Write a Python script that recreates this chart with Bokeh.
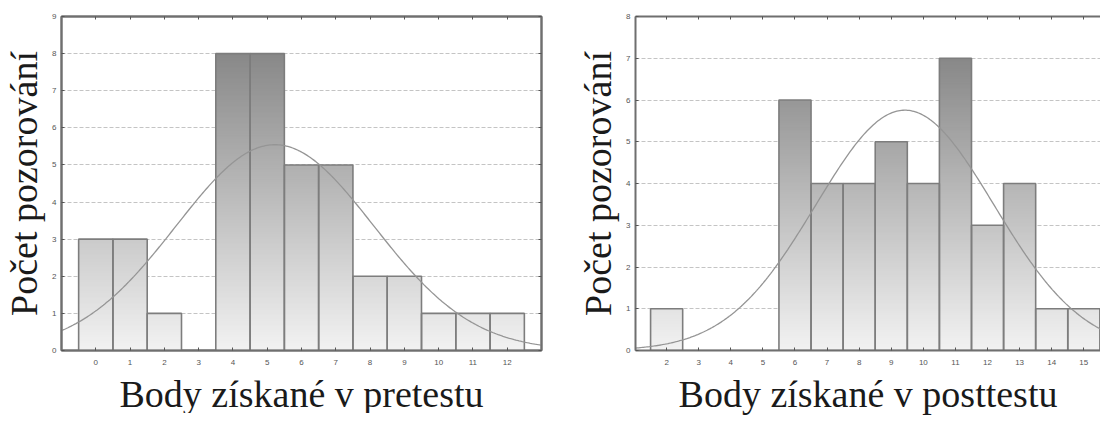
import numpy as np
from bokeh.plotting import figure
from bokeh.layouts import row
from bokeh.models import FixedTicker, LinearAxis, Range1d, ColumnDataSource
from bokeh.embed import file_html
from bokeh.resources import INLINE

# ---------------- data ----------------
pre_scores = [0, 1, 2, 3, 4, 5, 6, 7, 8, 9, 10, 11, 12]
pre_counts = [3, 3, 1, 0, 8, 8, 5, 5, 2, 2, 1, 1, 1]
post_scores = [2, 3, 4, 5, 6, 7, 8, 9, 10, 11, 12, 13, 14, 15]
post_counts = [1, 0, 0, 0, 6, 4, 4, 5, 4, 7, 3, 4, 1, 1]
pre_yticks = list(range(0, 10))
post_yticks = list(range(0, 9))
y_title = "Počet pozorování"
pre_xtitle = "Body získané v pretestu"
post_xtitle = "Body získané v posttestu"

SERIF = "'Liberation Serif', 'Times New Roman', serif"
SANS = "'Liberation Sans', Arial, sans-serif"


def make_panel(scores, counts, yticks, xtitle, x_start, x_end, frame_w, frame_h,
               right_axis=True, br=None):
    p = figure(frame_width=frame_w, frame_height=frame_h, output_backend="svg",
               toolbar_location=None, x_range=Range1d(x_start, x_end),
               y_range=Range1d(yticks[0], yticks[-1]),
               min_border_right=br, min_border_top=0, min_border_bottom=0)
    p.background_fill_color = "white"
    p.border_fill_color = "white"
    p.xgrid.grid_line_color = None
    p.ygrid.ticker = FixedTicker(ticks=yticks)
    p.ygrid.grid_line_color = "#c4c4c4"
    p.ygrid.grid_line_dash = "4 2"
    p.ygrid.grid_line_width = 1
    if right_axis:
        p.outline_line_color = "#7a7a7a"
        p.outline_line_width = 2
    else:
        p.outline_line_color = None

    # gradient bars (fill drawn as thin horizontal slices coloured by height)
    vmax = max(counts)
    dy = 0.05
    L, R, B, T, C = [], [], [], [], []
    for s, c in zip(scores, counts):
        n = int(round(c / dy))
        for k in range(n):
            y0 = k * dy
            y1 = min(c, y0 + dy + 0.04)
            g = int(round(242 - 106 * (y0 + dy / 2) / vmax))
            L.append(s - 0.5); R.append(s + 0.5); B.append(y0); T.append(y1)
            C.append("#%02x%02x%02x" % (g, g, g))
    p.quad(left=L, right=R, bottom=B, top=T, fill_color=C, line_color=None)
    src = ColumnDataSource(dict(x=scores, top=counts))
    p.vbar(x="x", top="top", bottom=0, width=1, source=src, fill_color=None,
           line_color="#7d7d7d", line_width=1.6)

    # fitted normal curve from the histogram
    sc = np.array(scores, float); ct = np.array(counts, float)
    N = ct.sum(); mu = (sc * ct).sum() / N
    sd = np.sqrt((ct * (sc - mu) ** 2).sum() / (N - 1))
    xs = np.linspace(x_start, x_end, 300)
    ys = N / (sd * np.sqrt(2 * np.pi)) * np.exp(-0.5 * ((xs - mu) / sd) ** 2)
    p.line(xs, ys, line_color="#959595", line_width=1.3)

    # axes
    p.xaxis.ticker = FixedTicker(ticks=scores)
    p.yaxis.ticker = FixedTicker(ticks=yticks)
    for ax in (p.xaxis[0], p.yaxis[0]):
        ax.axis_line_color = "#6f6f6f"
        ax.axis_line_width = 2
        ax.major_tick_in = 3
        ax.major_tick_out = 0
        ax.minor_tick_line_color = None
        ax.major_tick_line_color = "#555555"
        ax.major_label_text_font = SANS
        ax.major_label_text_font_size = "8px"
        ax.major_label_text_color = "#555555"
        ax.axis_label_text_font = SERIF
        ax.axis_label_text_font_style = "normal"
        ax.axis_label_text_color = "#1a1a1a"
        ax.axis_label_text_font_size = "38px"
    p.xaxis.axis_label = xtitle
    p.yaxis.axis_label = y_title
    p.xaxis.major_label_standoff = 9
    p.xaxis.axis_label_standoff = 5
    p.yaxis.major_label_standoff = 5
    p.yaxis.axis_label_standoff = 4

    blank_x = {t: "" for t in scores}
    blank_y = {t: "" for t in yticks}
    top = LinearAxis(ticker=FixedTicker(ticks=scores), major_label_overrides=blank_x,
                     major_label_text_font_size="1px",
                     axis_line_color="#6f6f6f", axis_line_width=2, major_tick_in=3,
                     major_tick_out=0, minor_tick_line_color=None,
                     major_tick_line_color="#555555", major_label_standoff=0)
    p.add_layout(top, "above")
    if right_axis:
        rax = LinearAxis(ticker=FixedTicker(ticks=yticks), major_label_overrides=blank_y,
                         major_label_text_font_size="1px",
                         axis_line_color="#6f6f6f", axis_line_width=2, major_tick_in=3,
                         major_tick_out=0, minor_tick_line_color=None,
                         major_tick_line_color="#555555", major_label_standoff=0)
        p.add_layout(rax, "right")
    return p


p1 = make_panel(pre_scores, pre_counts, pre_yticks, pre_xtitle, -1.0, 13.0, 480, 334,
                right_axis=True, br=33)
p1.min_border_top = 12
p2 = make_panel(post_scores, post_counts, post_yticks, post_xtitle, 1.03, 15.52, 465, 334,
                right_axis=False, br=0)
p2.min_border_top = 16

p = row(p1, p2)
open("out.html", "w").write(file_html(p, INLINE))
